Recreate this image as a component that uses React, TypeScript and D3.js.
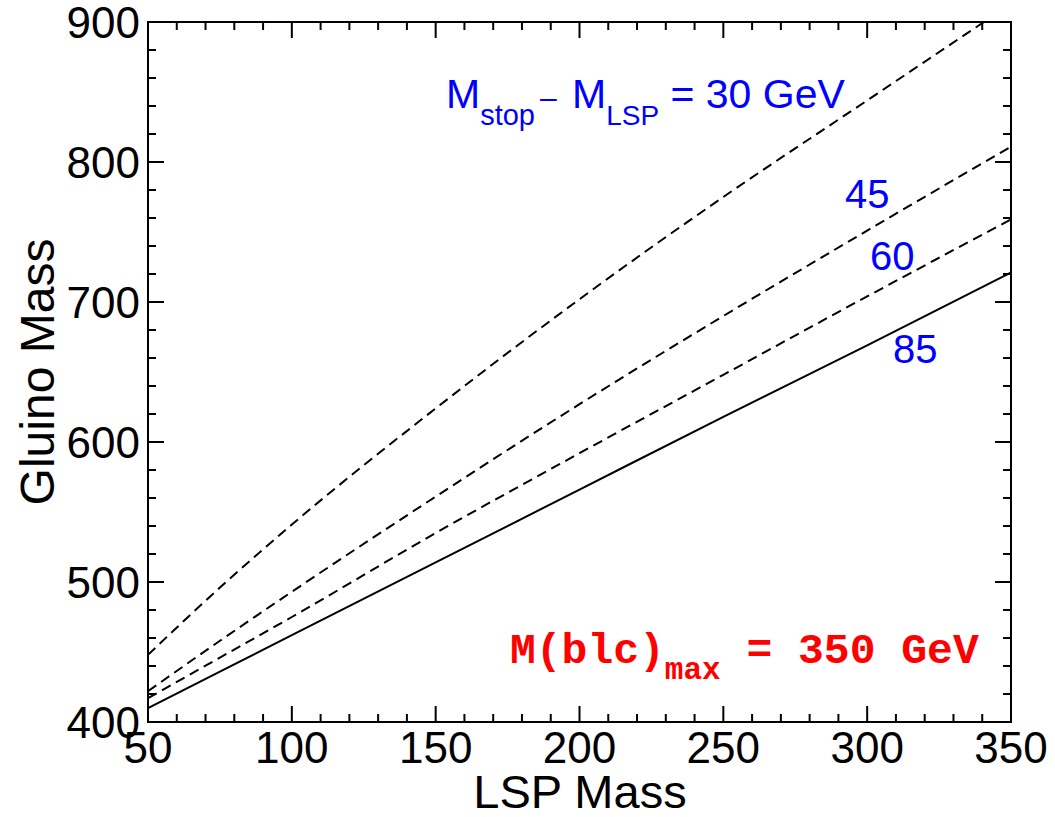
import React from "react";
import * as d3 from "d3";

const lspMass = [50, 75, 100, 150, 200, 250, 300, 350];
const gluino30 = [448, 496, 541, 624, 702, 775, 844, 913];
const gluino45 = [422, 458, 493, 561, 627, 690, 751, 811];
const gluino60 = [417, 446, 475, 535, 592, 648, 704, 759];
const gluino85 = [410, 436, 462, 514, 566, 618, 669, 721];
const xTicks = [50, 100, 150, 200, 250, 300, 350];
const yTicks = [400, 500, 600, 700, 800, 900];

const W = 1055, H = 817;
const L = 148, R = 1011, T = 22, B = 722;

export default function App() {
  const x = d3.scaleLinear().domain([50, 350]).range([L, R]);
  const y = d3.scaleLinear().domain([400, 900]).range([B, T]);
  const line = d3
    .line<number>()
    .x((_, i) => x(lspMass[i]))
    .y((d) => y(d))
    .curve(d3.curveMonotoneX);

  const xMinor = d3.range(50, 351, 10);
  const yMinor = d3.range(400, 901, 20);
  const font = "'Liberation Sans', Arial, Helvetica, sans-serif";

  const series = [
    { v: gluino30, dash: "10,6" },
    { v: gluino45, dash: "10,6" },
    { v: gluino60, dash: "10,6" },
    { v: gluino85, dash: "" },
  ];

  return (
    <svg
      width={W}
      height={H}
      style={{ position: "absolute", left: 0, top: 0, background: "#fff" }}
    >
      <defs>
        <clipPath id="plot">
          <rect x={L} y={T} width={R - L} height={B - T} />
        </clipPath>
      </defs>
      <rect x={0} y={0} width={W} height={H} fill="#fff" />
      <g clipPath="url(#plot)">
        {series.map((s, i) => (
          <path
            key={i}
            d={line(s.v) || ""}
            fill="none"
            stroke="#000"
            strokeWidth={2}
            strokeDasharray={s.dash || undefined}
          />
        ))}
      </g>
      {/* ticks */}
      <g stroke="#000" strokeWidth={2}>
        {xMinor.map((t) => {
          const len = t % 50 === 0 ? 16 : 8;
          return (
            <g key={"x" + t}>
              <line x1={x(t)} x2={x(t)} y1={B} y2={B - len} />
              <line x1={x(t)} x2={x(t)} y1={T} y2={T + len} />
            </g>
          );
        })}
        {yMinor.map((t) => {
          const len = t % 100 === 0 ? 16 : 8;
          return (
            <g key={"y" + t}>
              <line x1={L} x2={L + len} y1={y(t)} y2={y(t)} />
              <line x1={R} x2={R - len} y1={y(t)} y2={y(t)} />
            </g>
          );
        })}
      </g>
      <rect
        x={L}
        y={T}
        width={R - L}
        height={B - T}
        fill="none"
        stroke="#000"
        strokeWidth={2}
      />
      {/* tick labels */}
      <g fontFamily={font} fontSize={44} fill="#000">
        {xTicks.map((t) => (
          <text key={"xl" + t} x={x(t)} y={763} textAnchor="middle">
            {t}
          </text>
        ))}
        {yTicks.map((t) => (
          <text key={"yl" + t} x={140} y={y(t) + 16} textAnchor="end">
            {t}
          </text>
        ))}
      </g>
      {/* axis titles */}
      <text
        x={580}
        y={808}
        textAnchor="middle"
        fontFamily={font}
        fontSize={47}
        fill="#000"
      >
        LSP Mass
      </text>
      <text
        transform={`translate(54,372) rotate(-90)`}
        textAnchor="middle"
        fontFamily={font}
        fontSize={48}
        fill="#000"
      >
        Gluino Mass
      </text>
      {/* annotations */}
      <g fontFamily={font} fill="#0000ff">
        <text x={446} y={108} fontSize={41}>
          M
          <tspan dy={17} fontSize={29}>stop</tspan>
          <tspan x={540} dy={-17} fontSize={30}>{"\u2013"}</tspan>
          <tspan x={572} fontSize={41}>M</tspan>
          <tspan dy={17} fontSize={28}>LSP</tspan>
          <tspan dy={-17} fontSize={41}>{" = 30 GeV"}</tspan>
        </text>
        <text x={845} y={208} fontSize={40}>45</text>
        <text x={870} y={270} fontSize={40}>60</text>
        <text x={893} y={363} fontSize={40}>85</text>
      </g>
      <text
        x={510}
        y={663}
        fontFamily="'Liberation Mono', 'Courier New', monospace"
        fontWeight="bold"
        fontSize={43}
        fill="#ff0000"
      >
        M(blc)
        <tspan dy={16} fontSize={31}>max</tspan>
        <tspan dy={-16} fontSize={43}>{" = 350 GeV"}</tspan>
      </text>
    </svg>
  );
}
